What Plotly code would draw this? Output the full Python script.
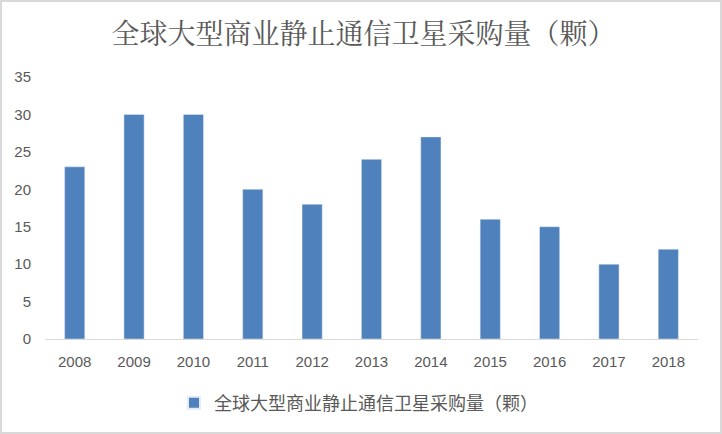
import plotly.graph_objects as go

years = ["2008", "2009", "2010", "2011", "2012", "2013", "2014", "2015", "2016", "2017", "2018"]
counts = [23, 30, 30, 20, 18, 24, 27, 16, 15, 10, 12]
series_name = "全球大型商业静止通信卫星采购量（颗）"
title_text = "全球大型商业静止通信卫星采购量（颗）"

W, H = 722, 434
ml, mr, mt, mb = 45, 24, 77, 95
pw, ph = W - ml - mr, H - mt - mb

fig = go.Figure()
fig.add_trace(go.Bar(x=years, y=counts, name=series_name, marker_color="#4F81BD",
                     showlegend=True))

tickfont = dict(size=15, family="Liberation Sans, Open Sans, sans-serif", color="#595959")

fig.update_layout(
    width=W, height=H,
    margin=dict(l=ml, r=mr, t=mt, b=mb, autoexpand=False),
    paper_bgcolor="white", plot_bgcolor="white",
    font=dict(family="Noto Sans CJK SC, Noto Sans, sans-serif", color="#595959"),
    title=dict(text=title_text, x=0.5 - 8 / pw, xanchor="center", xref="paper",
               yref="container", y=1 - 34 / H, yanchor="middle",
               font=dict(size=28, color="#595959", family="Noto Serif CJK SC, Noto Sans CJK SC, serif")),
    bargap=0.66,
    showlegend=True,
    legend=dict(orientation="h", x=0.5 - 13 / pw, xanchor="center", yref="container", y=1 - 403 / H,
                yanchor="middle", font=dict(size=18, color="#595959"), itemsizing="constant",
                itemwidth=30),
    xaxis=dict(showgrid=False, showline=True, linecolor="#D9D9D9", linewidth=1, ticks="",
               tickfont=tickfont, ticklabelstandoff=9, automargin=False),
    yaxis=dict(range=[0, 35], dtick=5, showgrid=False, zeroline=False, showline=False, ticks="",
               tickfont=tickfont, ticklabelstandoff=13, automargin=False),
    shapes=[dict(type="rect", xref="paper", yref="paper",
                 x0=-(ml - 1) / pw, x1=1 + (mr - 1) / pw, y0=-(mb - 1) / ph, y1=1 + (mt - 1) / ph,
                 line=dict(color="#D9D9D9", width=2), fillcolor="rgba(0,0,0,0)", layer="below")],
)

fig.write_html("out.html", config={"displayModeBar": False},
               post_script="document.body.style.margin='0';document.body.style.overflow='hidden';")
